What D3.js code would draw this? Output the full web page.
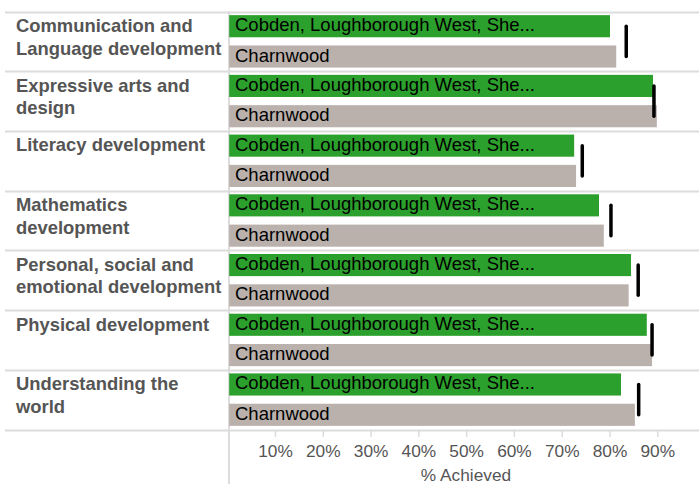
<!DOCTYPE html>
<html><head><meta charset="utf-8">
<script src="https://cdn.jsdelivr.net/npm/d3@7"></script>
<style>body{margin:0;background:#fff;}svg{display:block;font-family:Arial,"Liberation Sans",sans-serif;}</style>
</head><body><svg id="c" width="699" height="484"></svg>
<script>
const categories = [
  ["Communication and","Language development"],
  ["Expressive arts and","design"],
  ["Literacy development"],
  ["Mathematics","development"],
  ["Personal, social and","emotional development"],
  ["Physical development"],
  ["Understanding the","world"]
];
const seriesNames = ["Cobden, Loughborough West, She...", "Charnwood"];
const localValues = [80.1, 89.1, 72.6, 77.8, 84.5, 87.8, 82.4];
const charnwoodValues = [81.4, 89.9, 73.0, 78.8, 84.0, 88.9, 85.3];
const markerValues = [83.5, 89.3, 74.3, 80.3, 86.0, 88.9, 86.1];
const tickValues = [10,20,30,40,50,60,70,80,90];
const colors = ["#2ca02c", "#bab0ac"];

const svg = d3.select("#c");
const x = d3.scaleLinear().domain([0,100]).range([227.2, 705.1]);
const y = d3.scaleBand().domain(d3.range(categories.length)).range([11.5, 429.5]);
const inner = d3.scaleBand().domain([0,1]).range([0, y.bandwidth()]).paddingInner(0.27).paddingOuter(0.12);

const seps = d3.range(categories.length+1).map(i => i < categories.length ? y(i) : y.range()[1]);
svg.selectAll("line.sep").data(seps).join("line")
  .attr("x1", 5).attr("x2", 699).attr("y1", d=>Math.round(d)+0.5).attr("y2", d=>Math.round(d)+0.5)
  .attr("stroke", "#dcdcdc").attr("stroke-width", 2);
svg.append("line").attr("x1", 229).attr("x2", 229).attr("y1", 11).attr("y2", 484)
  .attr("stroke", "#dcdcdc").attr("stroke-width", 2);

const rows = svg.selectAll("g.row").data(categories).join("g").attr("class","row")
  .attr("transform", (d,i)=>`translate(0,${y(i)})`);

rows.each(function(lines, i){
  const g = d3.select(this);
  const vals = [localValues[i], charnwoodValues[i]];
  vals.forEach((v, j) => {
    g.append("rect").attr("x", x(0)+2).attr("y", inner(j)).attr("width", x(v)-x(0)-2)
      .attr("height", inner.bandwidth()).attr("fill", colors[j]);
    g.append("text").attr("x", 235).attr("y", inner(j)+inner.bandwidth()/2).attr("dy","0.27em")
      .attr("font-size", 18.5).attr("fill", "#000").text(seriesNames[j]);
  });
  g.append("line").attr("x1", x(markerValues[i])).attr("x2", x(markerValues[i]))
    .attr("y1", inner(0)+inner.bandwidth()/2).attr("y2", inner(1)+inner.bandwidth()/2)
    .attr("stroke","#000").attr("stroke-width",3.5).attr("stroke-linecap","round");
  const t = g.append("text").attr("x", 16).attr("y", 20.5).attr("font-size", 18.4)
    .attr("font-weight","bold").attr("fill","#555");
  lines.forEach((l,k)=> t.append("tspan").attr("x",16).attr("dy", k===0?0:22.5).text(l));
});

const axis = d3.axisBottom(x).tickValues(tickValues).tickFormat(d=>d+"%").tickSize(7).tickPadding(8);
const ag = svg.append("g").attr("transform","translate(0,430)").call(axis);
ag.select(".domain").remove();
ag.selectAll(".tick line").attr("stroke","#dcdcdc").attr("stroke-width",1.5);
ag.selectAll(".tick text").attr("font-size",17.3).attr("fill","#555").attr("font-family","Arial,'Liberation Sans',sans-serif");
svg.append("text").attr("x", 466).attr("y", 481).attr("text-anchor","middle")
  .attr("font-size",17.3).attr("fill","#555").text("% Achieved");
</script></body></html>
